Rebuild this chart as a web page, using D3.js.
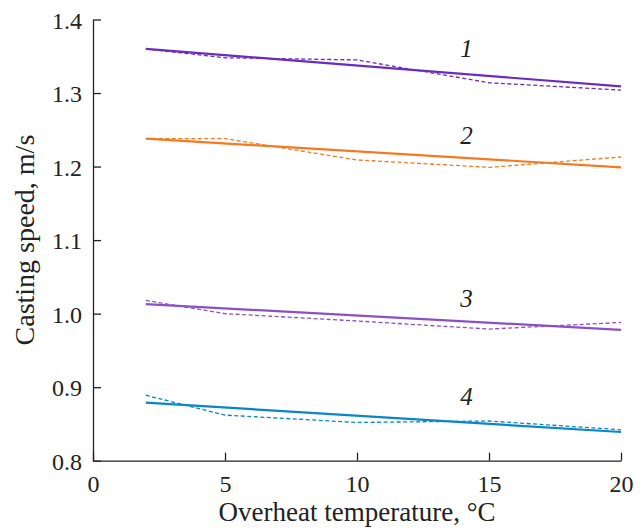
<!DOCTYPE html>
<html>
<head>
<meta charset="utf-8">
<script src="https://cdn.jsdelivr.net/npm/d3@7"></script>
<style>
body { margin: 0; background: #fff; }
svg text { font-family: "Liberation Serif", "Times New Roman", serif; fill: #222; }
</style>
</head>
<body>
<div id="chart"></div>
<script>
// measured points (dashed) and fitted lines (solid)
const temps = [2, 5, 10, 15, 20];
const fitTemps = [2, 20];

const measured1 = [1.360, 1.348, 1.345, 1.314, 1.304];
const measured2 = [1.238, 1.238, 1.209, 1.199, 1.213];
const measured3 = [1.018, 1.000, 0.990, 0.979, 0.988];
const measured4 = [0.889, 0.862, 0.852, 0.854, 0.842];

const fit1 = [1.360, 1.309];
const fit2 = [1.238, 1.199];
const fit3 = [1.013, 0.978];
const fit4 = [0.879, 0.839];

const curveLabels = ["1", "2", "3", "4"];
const labelPos = [[14.15, 1.349], [14.15, 1.231], [14.15, 1.009], [14.15, 0.8755]];
const colors = ["#6a2cc0", "#f47a20", "#8a50c8", "#0a86c8"];

const xTicks = [0, 5, 10, 15, 20];
const yTicks = [0.8, 0.9, 1.0, 1.1, 1.2, 1.3, 1.4];

const width = 643, height = 531;
const margin = {left: 93, right: 22, top: 19.5, bottom: 70.3};

const svg = d3.select("#chart").append("svg")
    .attr("width", width)
    .attr("height", height);

const x = d3.scaleLinear().domain([0, 20]).range([margin.left, width - margin.right]);
const y = d3.scaleLinear().domain([0.8, 1.4]).range([height - margin.bottom, margin.top]);

// axes, ticks pointing inward
const xAxis = svg.append("g")
    .attr("transform", "translate(0," + y(0.8) + ")")
    .call(d3.axisBottom(x).tickValues(xTicks).tickSize(-8).tickPadding(14).tickSizeOuter(0));
const yAxis = svg.append("g")
    .attr("transform", "translate(" + x(0) + ",0)")
    .call(d3.axisLeft(y).tickValues(yTicks).tickSize(-8).tickPadding(11).tickSizeOuter(0)
        .tickFormat(d3.format(".1f")));

[xAxis, yAxis].forEach(a => {
    a.select(".domain").attr("stroke", "#222").attr("stroke-width", 1.3);
    a.selectAll(".tick line").attr("stroke", "#222").attr("stroke-width", 1.3);
    a.selectAll(".tick text").attr("font-size", 24).attr("fill", "#222")
        .style("font-family", "'Liberation Serif', serif");
});
xAxis.selectAll(".tick text").attr("dy", "0.71em");
yAxis.selectAll(".tick text").attr("dy", "0.36em");

const line = d3.line().x(d => x(d[0])).y(d => y(d[1]));

const measured = [measured1, measured2, measured3, measured4];
const fits = [fit1, fit2, fit3, fit4];

measured.forEach((vals, i) => {
    svg.append("path")
        .datum(d3.zip(temps, vals))
        .attr("d", line)
        .attr("fill", "none")
        .attr("stroke", colors[i])
        .attr("stroke-width", 1.3)
        .attr("stroke-dasharray", "4,2.5");
});

fits.forEach((vals, i) => {
    svg.append("path")
        .datum(d3.zip(fitTemps, vals))
        .attr("d", line)
        .attr("fill", "none")
        .attr("stroke", colors[i])
        .attr("stroke-width", 2.2);
});

svg.selectAll(".curve-label")
    .data(curveLabels)
    .join("text")
    .attr("class", "curve-label")
    .attr("x", (d, i) => x(labelPos[i][0]))
    .attr("y", (d, i) => y(labelPos[i][1]))
    .attr("text-anchor", "middle")
    .attr("font-size", 25)
    .attr("font-style", "italic")
    .text(d => d);

svg.append("text")
    .attr("x", (x(0) + x(20)) / 2)
    .attr("y", 521)
    .attr("text-anchor", "middle")
    .attr("font-size", 27)
    .text("Overheat temperature, °C");

svg.append("text")
    .attr("transform", "translate(34," + ((y(0.8) + y(1.4)) / 2) + ") rotate(-90)")
    .attr("text-anchor", "middle")
    .attr("font-size", 28)
    .text("Casting speed, m/s");
</script>
</body>
</html>
